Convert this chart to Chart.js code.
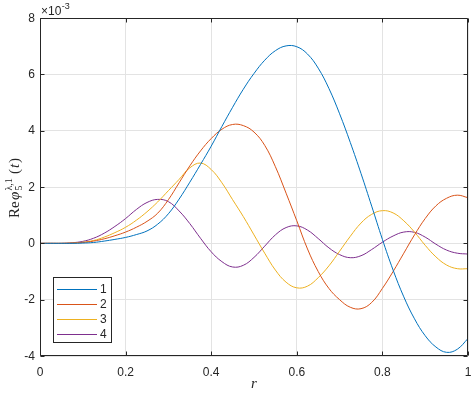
<!DOCTYPE html>
<html>
<head>
<meta charset="utf-8">
<script src="https://cdn.jsdelivr.net/npm/chart.js@4/dist/chart.umd.min.js"></script>
<style>
html,body{margin:0;padding:0;background:#fff;}
#wrap{width:471px;height:393px;position:relative;}
</style>
</head>
<body>
<div id="wrap"><canvas id="c" width="471" height="393"></canvas></div>
<script>
// r values (x axis)
const rValues = [0,0.025,0.05,0.075,0.1,0.125,0.15,0.175,0.2,0.225,0.25,0.275,0.3,0.325,0.35,0.375,0.4,0.425,0.45,0.475,0.5,0.525,0.55,0.575,0.6,0.625,0.65,0.675,0.7,0.725,0.75,0.775,0.8,0.825,0.85,0.875,0.9,0.925,0.95,0.975,1];
// series values, in units of 1e-3
const series1 = [0,0,0,0,0.01,0.03,0.08,0.14,0.21,0.31,0.44,0.68,1.05,1.57,2.17,2.8,3.45,4.15,4.83,5.47,6.03,6.5,6.84,7.01,6.98,6.72,6.22,5.5,4.6,3.58,2.48,1.32,0.14,-0.95,-1.9,-2.68,-3.28,-3.68,-3.87,-3.76,-3.38];
const series2 = [0,0,0,0.01,0.03,0.08,0.16,0.27,0.4,0.57,0.78,1.07,1.55,2.15,2.75,3.28,3.72,4.05,4.22,4.18,3.95,3.48,2.72,1.78,0.8,-0.2,-1.0,-1.6,-2.0,-2.27,-2.32,-2.1,-1.6,-1.0,-0.35,0.3,0.88,1.33,1.6,1.71,1.62];
const series3 = [0,0,0,0.01,0.04,0.1,0.22,0.38,0.57,0.82,1.12,1.47,1.87,2.27,2.68,2.85,2.62,2.15,1.55,0.95,0.3,-0.35,-0.95,-1.38,-1.58,-1.52,-1.22,-0.8,-0.28,0.25,0.72,1.03,1.16,1.08,0.8,0.4,-0.07,-0.48,-0.77,-0.9,-0.9];
const series4 = [0,0,0,0.02,0.07,0.18,0.36,0.6,0.88,1.2,1.45,1.56,1.48,1.15,0.7,0.18,-0.3,-0.65,-0.84,-0.78,-0.5,-0.1,0.3,0.56,0.62,0.47,0.17,-0.16,-0.4,-0.51,-0.44,-0.22,0.04,0.26,0.4,0.39,0.22,-0.03,-0.24,-0.35,-0.38];
const seriesNames = ['1','2','3','4'];
const xTicks = [0,0.2,0.4,0.6,0.8,1];
const xTickLabels = ['0','0.2','0.4','0.6','0.8','1'];
const yTicks = [-4,-2,0,2,4,6,8];
const yTickLabels = ['-4','-2','0','2','4','6','8'];
const yExponent = '-3';

const colors = ['#0072BD','#D95319','#EDB120','#7E2F8E'];
const allSeries = [series1,series2,series3,series4];
const AXIS = '#262626';
const TICKFONT = '"Liberation Sans", Arial, Helvetica, sans-serif';
const SERIF = '"Liberation Serif", "Times New Roman", serif';

const datasets = allSeries.map((s,i)=>({
  label: seriesNames[i],
  data: rValues.map((r,j)=>({x:r,y:s[j]})),
  borderColor: colors[i],
  backgroundColor: colors[i],
  borderWidth: 1,
  pointRadius: 0,
  tension: 0.4,
  fill: false
}));

const decor = {
  id:'decor',
  afterDraw(chart){
    const ctx = chart.ctx;
    const a = chart.chartArea;
    const xs = chart.scales.x, ys = chart.scales.y;
    ctx.save();
    // box
    ctx.strokeStyle = AXIS;
    ctx.lineWidth = 1;
    const L = Math.round(a.left)+0.5, R = Math.round(a.right)-0.5, T = Math.round(a.top)+0.5, B = Math.round(a.bottom)-0.5;
    ctx.beginPath();
    ctx.rect(L,T,R-L,B-T);
    ctx.stroke();
    // inward ticks
    ctx.beginPath();
    xTicks.forEach(v=>{
      const px = Math.round(xs.getPixelForValue(v))+0.5;
      ctx.moveTo(px,B); ctx.lineTo(px,B-4);
      ctx.moveTo(px,T); ctx.lineTo(px,T+4);
    });
    yTicks.forEach(v=>{
      const py = Math.round(ys.getPixelForValue(v))+0.5;
      ctx.moveTo(L,py); ctx.lineTo(L+4,py);
      ctx.moveTo(R,py); ctx.lineTo(R-4,py);
    });
    ctx.stroke();
    // tick labels
    ctx.fillStyle = AXIS;
    ctx.font = '12px '+TICKFONT;
    ctx.textBaseline = 'middle';
    ctx.textAlign = 'right';
    yTicks.forEach((v,i)=>{
      ctx.fillText(yTickLabels[i], 35, ys.getPixelForValue(v)+0.5);
    });
    ctx.textBaseline = 'alphabetic';
    ctx.textAlign = 'center';
    xTicks.forEach((v,i)=>{
      ctx.fillText(xTickLabels[i], xs.getPixelForValue(v), 376);
    });
    // exponent label
    ctx.textAlign = 'left';
    ctx.font = '12px '+TICKFONT;
    const base = '\u00D710';
    ctx.fillText(base, 41, 15);
    const w = ctx.measureText(base).width;
    ctx.font = '9px '+TICKFONT;
    ctx.fillText(yExponent, 41+w+0.5, 9);
    // x title
    ctx.font = 'italic 15px '+SERIF;
    ctx.textAlign = 'center';
    ctx.fillText('r', (a.left+a.right)/2, 388);
    // y title (rotated)
    ctx.save();
    ctx.translate(19, 218);
    ctx.rotate(-Math.PI/2);
    ctx.textAlign = 'left';
    const parts = [
      {t:'Re', f:'15px', x:0, dy:0},
      {t:'\u03C6', f:'italic 15px', x:18, dy:0},
      {t:'5', f:'10px', x:27.5, dy:2.5},
      {t:'\u03BB,1', f:'10px', x:27.5, dy:-7},
      {t:'(', f:'15px', x:44, dy:0},
      {t:'t', f:'italic 15px', x:50, dy:0},
      {t:')', f:'15px', x:55, dy:0}
    ];
    parts.forEach(p=>{
      ctx.font = p.f+' '+SERIF;
      ctx.fillText(p.t, p.x, p.dy);
    });
    ctx.restore();
    // legend
    const lx = 53.5, ly = 277.5, lw = 58, lh = 65;
    ctx.fillStyle = '#fff';
    ctx.fillRect(lx,ly,lw,lh);
    ctx.strokeStyle = AXIS;
    ctx.lineWidth = 1;
    ctx.strokeRect(lx,ly,lw,lh);
    ctx.font = '12px '+TICKFONT;
    ctx.textAlign = 'left';
    ctx.textBaseline = 'middle';
    seriesNames.forEach((n,i)=>{
      const yy = 289 + i*15;
      ctx.strokeStyle = colors[i];
      ctx.lineWidth = 1;
      ctx.beginPath();
      ctx.moveTo(57, yy+0.5); ctx.lineTo(97, yy+0.5);
      ctx.stroke();
      ctx.fillStyle = AXIS;
      ctx.fillText(n, 100, yy+1);
    });
    ctx.restore();
  }
};

new Chart(document.getElementById('c'), {
  type:'line',
  data:{datasets},
  options:{
    responsive:false,
    animation:false,
    devicePixelRatio:1,
    layout:{padding:{left:0,right:3,top:18,bottom:0}},
    plugins:{legend:{display:false},tooltip:{enabled:false},title:{display:false}},
    scales:{
      x:{
        type:'linear', min:0, max:1,
        afterFit(s){ s.height = 37; s.paddingLeft = 0; s.paddingRight = 0; },
        afterBuildTicks(s){ s.ticks = xTicks.map(v=>({value:v})); },
        ticks:{ display:false },
        grid:{ color:'#e3e3e3', drawTicks:false, lineWidth:1 },
        border:{ display:false }
      },
      y:{
        type:'linear', min:-4, max:8,
        afterFit(s){ s.width = 40; s.paddingTop = 0; s.paddingBottom = 0; },
        afterBuildTicks(s){ s.ticks = yTicks.map(v=>({value:v})); },
        ticks:{ display:false },
        grid:{ color:'#e3e3e3', drawTicks:false, lineWidth:1 },
        border:{ display:false }
      }
    }
  },
  plugins:[decor]
});
</script>
</body>
</html>
